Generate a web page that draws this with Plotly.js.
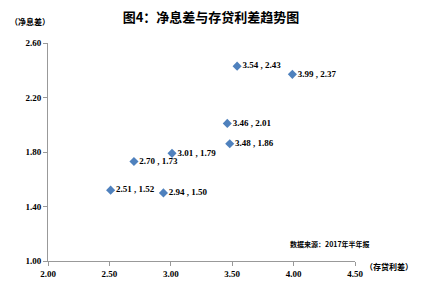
<!DOCTYPE html>
<html><head><meta charset="utf-8">
<script src="https://cdn.plot.ly/plotly-3.0.1.min.js"></script>
<style>body{margin:0;padding:0;background:#fff}#chart{width:422px;height:286px}</style>
</head><body><div id="chart"></div>
<script>
const loanDepositSpread = [3.54, 3.99, 3.46, 3.48, 3.01, 2.70, 2.51, 2.94];
const netInterestMargin = [2.43, 2.37, 2.01, 1.86, 1.79, 1.73, 1.52, 1.50];
const xTicks = [2.00, 2.50, 3.00, 3.50, 4.00, 4.50];
const yTicks = [1.00, 1.40, 1.80, 2.20, 2.60];
const labels = loanDepositSpread.map((x, i) => x.toFixed(2) + ' , ' + netInterestMargin[i].toFixed(2));
const numFont = 'Liberation Serif, serif';
const cjkFont = 'Noto Sans CJK SC, sans-serif';
const trace = {
  x: loanDepositSpread, y: netInterestMargin, mode: 'markers+text', type: 'scatter',
  text: labels.map(t => '<b>' + t + '</b>'), textposition: 'middle right',
  textfont: {family: numFont, size: 9, color: '#000'},
  marker: {symbol: 'diamond', size: 7, color: '#4F81BD'},
  cliponaxis: false, hoverinfo: 'none'
};
const layout = {
  width: 422, height: 286,
  margin: {l: 48, r: 67, t: 43, b: 25},
  paper_bgcolor: '#fff', plot_bgcolor: '#fff',
  showlegend: false,
  title: {text: '<b>图4：净息差与存贷利差趋势图</b>', font: {family: cjkFont, size: 13, color: '#000'}, x: 0.5, xanchor: 'center', y: 0.94, yanchor: 'middle'},
  xaxis: {range: [2, 4.5], tickvals: xTicks, ticktext: xTicks.map(v => '<b>' + v.toFixed(2) + '</b>'),
    showgrid: false, zeroline: false, showline: true, linecolor: '#999', linewidth: 1,
    ticks: 'outside', ticklen: 4, tickcolor: '#999', tickfont: {family: numFont, size: 9, color: '#000'}},
  yaxis: {range: [1, 2.6], tickvals: yTicks, ticktext: yTicks.map(v => '<b>' + v.toFixed(2) + '</b>'),
    showgrid: false, zeroline: false, showline: true, linecolor: '#999', linewidth: 1,
    ticks: 'outside', ticklen: 4, tickcolor: '#999', tickfont: {family: numFont, size: 9, color: '#000'}},
  annotations: [
    {text: '<b>（净息差）</b>', xref: 'paper', yref: 'paper', x: -0.058, y: 1.1, xanchor: 'center', yanchor: 'middle', showarrow: false, font: {family: cjkFont, size: 8, color: '#000'}},
    {text: '<b>（存贷利差）</b>', xref: 'paper', yref: 'paper', x: 1.025, y: -0.025, xanchor: 'left', yanchor: 'middle', showarrow: false, font: {family: cjkFont, size: 8, color: '#000'}},
    {text: '<b>数据来源：2017年半年报</b>', xref: 'paper', yref: 'paper', x: 0.92, y: 0.08, xanchor: 'center', yanchor: 'middle', showarrow: false, font: {family: cjkFont, size: 7, color: '#000'}}
  ]
};
Plotly.newPlot('chart', [trace], layout, {displayModeBar: false, staticPlot: true});
</script></body></html>
